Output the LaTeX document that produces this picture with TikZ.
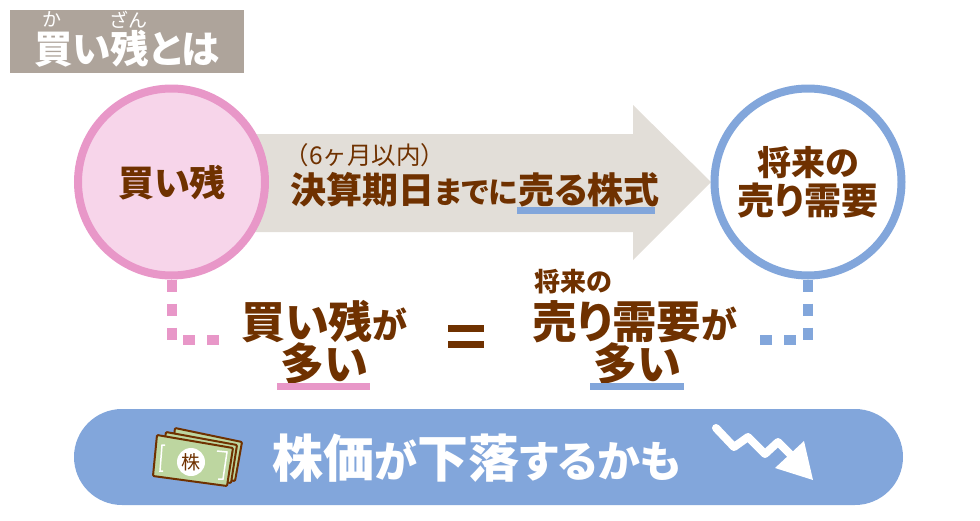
\documentclass[tikz,border=0pt]{standalone}
\usepackage{fontspec}
\newfontfamily\jp{Noto Sans CJK JP}[BoldFont={Noto Sans CJK JP Black},BoldFeatures={RawFeature=+palt},Renderer=OpenType]
\usetikzlibrary{calc}
\definecolor{pinkc}{HTML}{E897C8}
\definecolor{pinkf}{HTML}{F7D5EA}
\definecolor{bluec}{HTML}{82A6DB}
\definecolor{arrowc}{HTML}{E2DED8}
\definecolor{titlec}{HTML}{AEA49B}
\definecolor{brownc}{HTML}{6F3100}
\definecolor{greenc}{HTML}{BDD6A0}
\newcommand{\fs}[1]{\fontsize{#1pt}{#1pt}\selectfont}
\tikzset{
  txt/.style={inner sep=0pt,outer sep=0pt,text=brownc,font=\jp\bfseries,align=center},
  ball/.style={circle,line width=8pt,minimum size=187pt,inner sep=0pt},
  dots/.style={line width=10pt,dash pattern=on 12pt off 12pt},
  bar/.style={line width=7pt},
  note/.style={draw=brownc,fill=greenc,line width=2pt,rounded corners=1pt,line join=round},
}
\begin{document}
\begin{tikzpicture}[x=1pt,y=-1pt]
\useasboundingbox (0,0) rectangle (980,520);
% title
\node[fill=titlec,minimum width=234pt,minimum height=63pt,inner sep=0pt] (title) at (127,41.5) {};
\node[txt,text=white] (t1) at (127,48.5) {\fs{38.5}買い残とは};
\node[txt,text=white,font=\jp] (r1) at (52,19.5) {\fs{19}か};
\node[txt,text=white,font=\jp] (r2) at (128,19.5) {\fs{19}ざん};
% arrow
\fill[arrowc] (250,134) -- (633,134) -- (633,105) -- (711,182) -- (633,260) -- (633,232) -- (250,232) -- cycle;
% circles
\node[ball,draw=pinkc,fill=pinkf] (buy) at (171.5,182) {};
\node[ball,draw=bluec,fill=white] (sell) at (808,182) {};
\node[txt] (buyt) at (172,183) {\fs{36}買い残};
\node[txt] (sellt1) at (808,163) {\fs{34}将来の};
\node[txt] (sellt2) at (808,201) {\fs{37}売り需要};
% arrow text
\node[txt,font=\jp] (p6) at (365,155) {\fs{24.5}（6ヶ月以内）};
\node[txt] (main) at (475,190) {\fs{36}決算期日\fs{30}までに\fs{36}売る株式};
\draw[bluec,bar] (517,210.5) -- (655,210.5);
% dotted connectors
\coordinate (pc) at (171.5,339.7);
\coordinate (pe) at (221.5,339.7);
\coordinate (bc) at (808,339.7);
\coordinate (be) at (759,339.7);
\draw[pinkc,dots] (buy.south) -- (pc) -- (pe);
\draw[bluec,dots] (sell.south) -- (bc) -- (be);
% left statement
\node[txt] (l1) at (324.5,322) {\fs{44}買い残\fs{35}が};
\node[txt] (l2) at (324,364) {\fs{44}多い};
\draw[pinkc,bar] (277,386.5) -- (370,386.5);
% equals
\fill[brownc] (448,325) rectangle (484,332);
\fill[brownc] (448,341) rectangle (484,348);
% right statement
\node[txt] (r0) at (573,282) {\fs{26}将来の};
\node[txt] (r3) at (635,322) {\fs{44.5}売り需要\fs{36}が};
\node[txt] (r4) at (637,364) {\fs{44}多い};
\draw[bluec,bar] (590,386.5) -- (684,386.5);
% pill
\node[fill=bluec,rounded corners=48pt,minimum width=829pt,minimum height=96pt,inner sep=0pt] (pill) at (488.5,457) {};
\node[txt,text=white] (pt) at (477,458) {\fs{51}株価\fs{43}が\fs{51}下落\fs{43}するかも};
% banknotes
\draw[note] (175,428) -- (242,442) -- (235,481) -- (170,470) -- cycle;
\draw[note] (166,432) -- (237,445) -- (231,483) -- (160,472) -- cycle;
\draw[note] (157,435) -- (233,448) -- (227,486) -- (153,476) -- cycle;
\draw[white,line width=1.5pt] (165,445) -- (162,445) -- (160,471) -- (163,471);
\draw[white,line width=1.5pt] (217,451) -- (227,452) -- (223,479) -- (218,479);
\node[circle,fill=white,minimum size=28pt,inner sep=0pt] (coin) at (191,462) {};
\node[txt,font=\jp] at (coin) {\fs{19}株};
% down arrow
\draw[white,line width=8pt,line cap=round,line join=round] (716,428) -- (734,447) -- (748,437) -- (765,454) -- (778,442) -- (795,459);
\fill[white] (804,441) -- (813,480) -- (775,468) -- cycle;
\end{tikzpicture}
\end{document}
